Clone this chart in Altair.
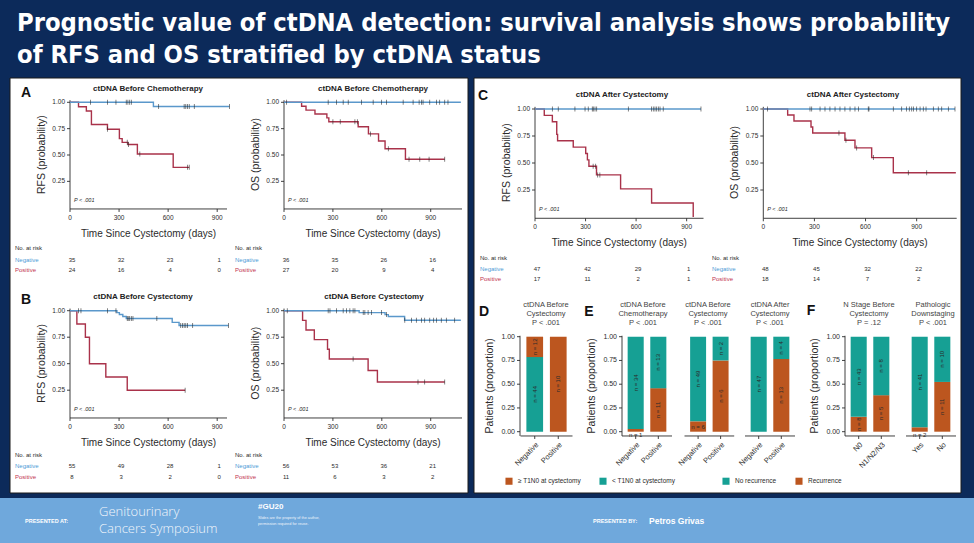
import altair as alt
import pandas as pd

W, H = 974, 543
NAVY = "#0c2a5a"
FOOT = "#6fa8dc"
BLUE = "#5a98cb"
RED = "#a9324a"
NEG_TXT = "#4d9bd6"
POS_TXT = "#c2334f"
TEAL = "#16a094"
ORANGE = "#bc561f"
INK = "#2b2b2b"
NARROW = "'Liberation Sans Narrow', 'Arial Narrow', 'Liberation Sans', sans-serif"
SANS = "'Liberation Sans', Arial, sans-serif"
HEAD = "'DejaVu Sans Condensed', 'DejaVu Sans', sans-serif"

# ---------------- data: Kaplan-Meier curves (day, survival) -----------------
A_RFS_NEG_STEPS = [(0, 1.0), (510, 0.96)]
A_RFS_NEG_CENS = [125, 229, 281, 344, 354, 365, 375, 542, 698, 708, 719, 729, 760, 975]
A_RFS_NEG_END = 975
A_RFS_POS_STEPS = [(0, 1.0), (52, 0.958), (100, 0.917), (131, 0.79), (229, 0.745), (302, 0.655),
                   (319, 0.62), (354, 0.60), (412, 0.51), (631, 0.383)]
A_RFS_POS_CENS = [229, 350, 358, 427, 719, 729]
A_RFS_POS_END = 729

A_OS_NEG_STEPS = [(0, 1.0)]
A_OS_NEG_CENS = [16, 271, 322, 363, 394, 476, 547, 598, 629, 731, 792, 829, 843, 853, 894, 935, 955, 986, 1006]
A_OS_NEG_END = 1085
A_OS_POS_STEPS = [(0, 1.0), (108, 0.963), (135, 0.926), (190, 0.889), (263, 0.852), (275, 0.815),
                  (455, 0.768), (518, 0.70), (580, 0.633), (620, 0.56), (745, 0.46)]
A_OS_POS_CENS = [300, 345, 435, 450, 530, 640, 767, 833, 890, 986]
A_OS_POS_END = 986

B_RFS_NEG_STEPS = [(0, 1.0), (287, 0.982), (302, 0.964), (323, 0.945), (344, 0.927), (625, 0.89), (667, 0.86)]
B_RFS_NEG_CENS = [52, 67, 229, 281, 350, 356, 365, 375, 385, 531, 677, 688, 698, 708, 719, 750, 969]
B_RFS_NEG_END = 969
B_RFS_POS_STEPS = [(0, 1.0), (42, 0.875), (94, 0.75), (119, 0.5), (219, 0.375), (350, 0.25)]
B_RFS_POS_CENS = [704]
B_RFS_POS_END = 704

B_OS_NEG_STEPS = [(0, 1.0), (461, 0.982), (620, 0.963), (640, 0.945), (740, 0.91)]
B_OS_NEG_CENS = [20, 271, 282, 322, 363, 384, 404, 424, 435, 486, 496, 516, 537, 598, 629, 741, 782, 812,
                 843, 863, 894, 918, 935, 965, 996, 1047]
B_OS_NEG_END = 1085
B_OS_POS_STEPS = [(0, 1.0), (114, 0.909), (135, 0.818), (186, 0.727), (267, 0.636), (278, 0.545),
                  (516, 0.436), (573, 0.327)]
B_OS_POS_CENS = [424, 822, 863, 986]
B_OS_POS_END = 986

C_RFS_NEG_STEPS = [(0, 1.0)]
C_RFS_NEG_CENS = [103, 138, 237, 297, 316, 340, 346, 356, 366, 554, 692, 702, 712, 722, 732, 742, 761, 985]
C_RFS_NEG_END = 985
C_RFS_POS_STEPS = [(0, 1.0), (55, 0.941), (103, 0.882), (129, 0.765), (134, 0.706), (227, 0.647),
                   (301, 0.588), (311, 0.529), (320, 0.47), (365, 0.39), (508, 0.26), (692, 0.13), (939, 0.0)]
C_RFS_POS_CENS = [345, 360, 372, 385]
C_RFS_POS_END = 939

C_OS_NEG_STEPS = [(0, 1.0)]
C_OS_NEG_CENS = [25, 274, 284, 333, 362, 391, 421, 450, 479, 509, 538, 558, 616, 620, 763, 812, 841, 857,
                 871, 881, 900, 920, 939, 955, 998, 1027, 1047, 1086, 1125]
C_OS_NEG_END = 1125
C_OS_POS_STEPS = [(0, 1.0), (143, 0.944), (180, 0.889), (280, 0.833), (290, 0.778), (479, 0.71),
                  (538, 0.64), (636, 0.55), (763, 0.41)]
C_OS_POS_CENS = [444, 485, 548, 646, 851, 959]
C_OS_POS_END = 1130

# numbers at risk at 0, 300, 600, 900 days
RISK_DAYS = [0, 300, 600, 900]
A_RFS_RISK_NEG = [35, 32, 23, 1]
A_RFS_RISK_POS = [24, 16, 4, 0]
A_OS_RISK_NEG = [36, 35, 26, 16]
A_OS_RISK_POS = [27, 20, 9, 4]
B_RFS_RISK_NEG = [55, 49, 28, 1]
B_RFS_RISK_POS = [8, 3, 2, 0]
B_OS_RISK_NEG = [56, 53, 36, 21]
B_OS_RISK_POS = [11, 6, 3, 2]
C_RFS_RISK_NEG = [47, 42, 29, 1]
C_RFS_RISK_POS = [17, 11, 2, 1]
C_OS_RISK_NEG = [48, 45, 32, 22]
C_OS_RISK_POS = [18, 14, 7, 2]

KM_Y_TICKS = [0.25, 0.5, 0.75, 1.0]
BAR_Y_TICKS = [0.0, 0.25, 0.5, 0.75, 1.0]

# ---------------- data: stacked proportion bars (counts bottom -> top) ------
D_CLASSES = ["< T1N0 at cystectomy", "≥ T1N0 at cystectomy"]
D_LEGEND = ["≥ T1N0 at cystectomy", "< T1N0 at cystectomy"]
REC_CLASSES = ["Recurrence", "No recurrence"]
REC_LEGEND = ["No recurrence", "Recurrence"]
D_CATS = ["Negative", "Positive"]
D_COUNTS = [[44, 12], [0, 10]]
E1_CATS = ["Negative", "Positive"]
E1_COUNTS = [[1, 34], [11, 13]]
E2_CATS = ["Negative", "Positive"]
E2_COUNTS = [[6, 49], [6, 2]]
E3_CATS = ["Negative", "Positive"]
E3_COUNTS = [[0, 47], [13, 4]]
F1_CATS = ["N0", "N1/N2/N3"]
F1_COUNTS = [[8, 43], [5, 8]]
F2_CATS = ["Yes", "No"]
F2_COUNTS = [[2, 41], [11, 10]]

one = pd.DataFrame({"k": [0]})


def txt(text, x, y, size, color=INK, weight="normal", align="left", baseline="middle",
        font=SANS, style="normal", angle=0):
    return alt.Chart(one).mark_text(text=text, fontSize=size, color=color, fontWeight=weight, align=align,
                                    baseline=baseline, font=font, fontStyle=style, angle=angle).encode(
        x=alt.value(x), y=alt.value(y))


def rect(x, x2, y, y2, fill, stroke=None):
    kw = dict(fill=fill)
    if stroke:
        kw.update(stroke=stroke, strokeWidth=1)
    return alt.Chart(one).mark_rect(**kw).encode(
        x=alt.value(x), x2=alt.value(x2), y=alt.value(y), y2=alt.value(y2))


def y_axis(ys, ticks, xpix, lo, hi, label_size=6.5):
    """Left axis (domain, ticks, labels) drawn through the panel's y scale."""
    dom = pd.DataFrame({"a": [lo], "b": [hi]})
    tk = pd.DataFrame({"v": ticks, "lab": [f"{t:.2f}" for t in ticks]})
    return [
        alt.Chart(dom).mark_rule(color=INK, strokeWidth=0.9).encode(
            x=alt.value(xpix), y=alt.Y("a:Q", scale=ys, axis=None), y2="b:Q"),
        alt.Chart(tk).mark_rule(color=INK, strokeWidth=0.9).encode(
            x=alt.value(xpix - 3), x2=alt.value(xpix), y=alt.Y("v:Q", scale=ys, axis=None)),
        alt.Chart(tk).mark_text(fontSize=label_size, color=INK, font=SANS, align="right",
                                baseline="middle").encode(
            x=alt.value(xpix - 5), y=alt.Y("v:Q", scale=ys, axis=None), text="lab:N"),
    ]


def km_panel(title, ylab, xdom, xr, y0p, y1p, neg, pos, risk_neg, risk_pos,
             title_xy, lab_x, rows):
    xs = alt.Scale(domain=xdom, range=xr, nice=False, zero=False)
    lo, hi = -0.012, 1.02
    span = y0p - y1p
    ybot = y0p - lo * span
    ys = alt.Scale(domain=[lo, hi], range=[ybot, y0p - hi * span], nice=False, zero=False)
    layers = []
    dom = pd.DataFrame({"a": [xdom[0]], "b": [xdom[1]]})
    tk = pd.DataFrame({"v": RISK_DAYS, "lab": [str(d) for d in RISK_DAYS]})
    layers += [
        alt.Chart(dom).mark_rule(color=INK, strokeWidth=0.9).encode(
            x=alt.X("a:Q", scale=xs, axis=None), x2="b:Q", y=alt.value(ybot)),
        alt.Chart(tk).mark_rule(color=INK, strokeWidth=0.9).encode(
            x=alt.X("v:Q", scale=xs, axis=None), y=alt.value(ybot), y2=alt.value(ybot + 3)),
        alt.Chart(tk).mark_text(fontSize=6.5, color=INK, font=SANS, baseline="middle").encode(
            x=alt.X("v:Q", scale=xs, axis=None), y=alt.value(ybot + 9), text="lab:N"),
    ]
    layers += y_axis(ys, KM_Y_TICKS, xr[0], lo, hi)
    layers.append(txt("Time Since Cystectomy (days)", (xr[0] + xr[1]) / 2, ybot + 25, 10, INK,
                      align="center", font=NARROW))
    layers.append(txt(ylab, xr[0] - 28, (ybot + y0p - hi * span) / 2, 10.5, INK, align="center",
                      font=NARROW, angle=270))
    for (steps, cens, end), col in ((pos, RED), (neg, BLUE)):
        pts = [{"day": d, "surv": s} for d, s in steps] + [{"day": end, "surv": steps[-1][1]}]

        def surv_at(t, steps=steps):
            v = steps[0][1]
            for d, s in steps:
                if d <= t:
                    v = s
            return v
        cz = [{"day": c, "surv": surv_at(c)} for c in cens]
        layers.append(alt.Chart(pd.DataFrame(pts)).mark_line(interpolate="step-after", color=col,
                                                               strokeWidth=1.4).encode(
            x=alt.X("day:Q", scale=xs, axis=None), y=alt.Y("surv:Q", scale=ys, axis=None)))
        layers.append(alt.Chart(pd.DataFrame(cz)).mark_tick(orient="vertical", size=5, thickness=0.8,
                                                             color="#222222").encode(
            x=alt.X("day:Q", scale=xs, axis=None), y=alt.Y("surv:Q", scale=ys, axis=None)))
    for vals, ry in ((risk_neg, rows[1]), (risk_pos, rows[2])):
        rdf = pd.DataFrame({"day": RISK_DAYS, "n": vals})
        layers.append(alt.Chart(rdf).mark_text(fontSize=6, color=INK, font=SANS, dx=2).encode(
            x=alt.X("day:Q", scale=xs, axis=None), y=alt.value(ry), text="n:Q"))
    layers.append(txt("No. at risk", lab_x, rows[0], 6, INK))
    layers.append(txt("Negative", lab_x, rows[1], 6, NEG_TXT))
    layers.append(txt("Positive", lab_x, rows[2], 6, POS_TXT))
    layers.append(txt("P < .001", xr[0] + 4, ybot - 9, 5.5, INK, style="italic"))
    layers.append(txt(title, title_xy[0], title_xy[1], 8, "#222222", weight="bold", align="center"))
    return alt.layer(*layers)


def bar_panel(cats, counts, classes, legend_order, xr, title_lines, title_x, yaxis_x=None, legend_xy=None):
    rows = []
    for cat, cnts in zip(cats, counts):
        tot = sum(cnts)
        acc = 0.0
        for cls, n in zip(classes, cnts):
            if n == 0:
                continue
            p = n / tot
            lo = acc
            acc += p
            small = p < 0.05
            rows.append({"cat": cat, "cls": cls, "y0": lo, "y1": acc, "lab": f"n = {n}",
                         "ly": -0.03 if small else (lo + acc) / 2,
                         "ang": 0 if p < 0.12 else 270})
    df = pd.DataFrame(rows)
    lo_d, hi_d = -0.045, 1.01
    y0p, y1p = 431.7, 336.7
    span = y0p - y1p
    ybot = y0p - lo_d * span
    ys = alt.Scale(domain=[lo_d, hi_d], range=[ybot, y0p - hi_d * span], nice=False, zero=False)
    xs = alt.Scale(domain=cats, range=xr, paddingInner=0.29, paddingOuter=0.25)
    if legend_xy is not None:
        legend = alt.Legend(orient="none", legendX=legend_xy[0], legendY=legend_xy[1], direction="horizontal",
                            title=None, symbolType="square", symbolSize=50, symbolStrokeWidth=0,
                            labelFontSize=6.5, labelFont=SANS, labelColor=INK, columnPadding=18,
                            labelOffset=5, zindex=1)
    else:
        legend = None
    rng = [ORANGE, TEAL] if legend_order[0].startswith("≥") else [TEAL, ORANGE]
    color = alt.Color("cls:N", scale=alt.Scale(domain=legend_order, range=rng), legend=legend)
    layers = [
        alt.Chart(df).mark_bar().encode(
            x=alt.X("cat:N", scale=xs, axis=None, sort=cats),
            y=alt.Y("y0:Q", scale=ys, axis=None), y2="y1:Q", color=color),
        alt.Chart(df).mark_text(fontSize=6, color=INK, font=SANS).encode(
            x=alt.X("cat:N", scale=xs, axis=None, sort=cats), y=alt.Y("ly:Q", scale=ys, axis=None),
            text="lab:N", angle=alt.Angle("ang:Q", scale=None)),
    ]
    cdf = pd.DataFrame({"cat": cats})
    layers += [
        alt.Chart(one).mark_rule(color=INK, strokeWidth=0.9).encode(
            x=alt.value(xr[0]), x2=alt.value(xr[1]), y=alt.value(ybot)),
        alt.Chart(cdf).mark_rule(color=INK, strokeWidth=0.9).encode(
            x=alt.X("cat:N", scale=xs, axis=None, sort=cats), y=alt.value(ybot), y2=alt.value(ybot + 3)),
        alt.Chart(cdf).mark_text(fontSize=7.5, color=INK, font=SANS, angle=315, align="right",
                                 baseline="top").encode(
            x=alt.X("cat:N", scale=xs, axis=None, sort=cats), y=alt.value(ybot + 5), text="cat:N"),
    ]
    if yaxis_x is not None:
        layers += y_axis(ys, BAR_Y_TICKS, yaxis_x, lo_d, hi_d, label_size=7)
        layers.append(txt("Patients (proportion)", yaxis_x - 30, (ybot + y0p - hi_d * span) / 2, 10.5, INK,
                          align="center", font=NARROW, angle=270))
    layers.append(alt.Chart(one).mark_text(text=title_lines, fontSize=7.5, color="#444444", font=SANS,
                                           align="center", baseline="top", lineHeight=9).encode(
        x=alt.value(title_x), y=alt.value(301)))
    return alt.layer(*layers)


layers = [
    rect(10, 468, 78, 493, "white", "#1a1a1a"),
    rect(474, 961, 78, 493, "white", "#1a1a1a"),
    rect(0, W, 498, H, FOOT),
    txt("Prognostic value of ctDNA detection: survival analysis shows probability", 17, 31, 25.3, "white",
        weight="bold", baseline="alphabetic", font=HEAD),
    txt("of RFS and OS stratified by ctDNA status", 17, 63, 25.3, "white", weight="bold",
        baseline="alphabetic", font=HEAD),
]

layers.append(km_panel("ctDNA Before Chemotherapy", "RFS (probability)", [0, 960], [70, 227], 207.7, 102.3,
                       (A_RFS_NEG_STEPS, A_RFS_NEG_CENS, A_RFS_NEG_END),
                       (A_RFS_POS_STEPS, A_RFS_POS_CENS, A_RFS_POS_END),
                       A_RFS_RISK_NEG, A_RFS_RISK_POS, (148, 89), 15, (248, 259.7, 270.3)))
layers.append(km_panel("ctDNA Before Chemotherapy", "OS (probability)", [0, 1092], [284, 462], 207.7, 102.3,
                       (A_OS_NEG_STEPS, A_OS_NEG_CENS, A_OS_NEG_END),
                       (A_OS_POS_STEPS, A_OS_POS_CENS, A_OS_POS_END),
                       A_OS_RISK_NEG, A_OS_RISK_POS, (373, 89), 235, (248, 259.7, 270.3)))
layers.append(km_panel("ctDNA Before Cystectomy", "RFS (probability)", [0, 960], [70, 227], 416.7, 310.7,
                       (B_RFS_NEG_STEPS, B_RFS_NEG_CENS, B_RFS_NEG_END),
                       (B_RFS_POS_STEPS, B_RFS_POS_CENS, B_RFS_POS_END),
                       B_RFS_RISK_NEG, B_RFS_RISK_POS, (143, 297), 15, (454.7, 466.3, 477.3)))
layers.append(km_panel("ctDNA Before Cystectomy", "OS (probability)", [0, 1092], [284, 462], 416.7, 310.7,
                       (B_OS_NEG_STEPS, B_OS_NEG_CENS, B_OS_NEG_END),
                       (B_OS_POS_STEPS, B_OS_POS_CENS, B_OS_POS_END),
                       B_OS_RISK_NEG, B_OS_RISK_POS, (374, 297), 235, (454.7, 466.3, 477.3)))
layers.append(km_panel("ctDNA After Cystectomy", "RFS (probability)", [0, 1000], [535, 703.5], 217, 109,
                       (C_RFS_NEG_STEPS, C_RFS_NEG_CENS, C_RFS_NEG_END),
                       (C_RFS_POS_STEPS, C_RFS_POS_CENS, C_RFS_POS_END),
                       C_RFS_RISK_NEG, C_RFS_RISK_POS, (622, 95), 480, (258.3, 269, 279.3)))
layers.append(km_panel("ctDNA After Cystectomy", "OS (probability)", [0, 1135], [763.3, 956.7], 217, 109,
                       (C_OS_NEG_STEPS, C_OS_NEG_CENS, C_OS_NEG_END),
                       (C_OS_POS_STEPS, C_OS_POS_CENS, C_OS_POS_END),
                       C_OS_RISK_NEG, C_OS_RISK_POS, (853, 95), 712, (258.3, 269, 279.3)))

layers.append(bar_panel(D_CATS, D_COUNTS, D_CLASSES, D_LEGEND, [520.5, 572.5],
                        ["ctDNA Before", "Cystectomy", "P < .001"], 546, yaxis_x=520, legend_xy=(505, 477)))
layers.append(bar_panel(E1_CATS, E1_COUNTS, REC_CLASSES, REC_LEGEND, [622, 672],
                        ["ctDNA Before", "Chemotherapy", "P < .001"], 643, yaxis_x=622, legend_xy=(722, 477)))
layers.append(bar_panel(E2_CATS, E2_COUNTS, REC_CLASSES, REC_LEGEND, [684.5, 734.2],
                        ["ctDNA Before", "Cystectomy", "P < .001"], 708))
layers.append(bar_panel(E3_CATS, E3_COUNTS, REC_CLASSES, REC_LEGEND, [745, 795],
                        ["ctDNA After", "Cystectomy", "P < .001"], 770))
layers.append(bar_panel(F1_CATS, F1_COUNTS, REC_CLASSES, REC_LEGEND, [845, 895],
                        ["N Stage Before", "Cystectomy", "P = .12"], 869, yaxis_x=845))
layers.append(bar_panel(F2_CATS, F2_COUNTS, REC_CLASSES, REC_LEGEND, [906, 956],
                        ["Pathologic", "Downstaging", "P < .001"], 933))

# panel letters
for L, lx, ly in (("A", 26, 93), ("B", 26, 300), ("C", 483, 96), ("D", 484, 312), ("E", 589, 312), ("F", 811, 311)):
    layers.append(txt(L, lx, ly, 14, "#111111", weight="bold", align="center", font=SANS))

# footer
layers += [
    txt("PRESENTED AT:", 25, 521, 5.5, "white", weight="bold", font=SANS),
    txt("Genitourinary", 99, 511.5, 13, "#f2f6fb", weight=300, font="'Open Sans', 'Lato', sans-serif"),
    txt("Cancers Symposium", 99, 528.5, 13, "#f2f6fb", weight=300, font="'Open Sans', 'Lato', sans-serif"),
    txt("#GU20", 258, 507, 8, "white", weight="bold", font=SANS),
    txt("Slides are the property of the author,", 258, 518, 3.8, "#eef3fa", font=SANS),
    txt("permission required for reuse.", 258, 524, 3.8, "#eef3fa", font=SANS),
    txt("PRESENTED BY:", 593, 521, 5.5, "white", weight="bold", font=SANS),
    txt("Petros Grivas", 649, 521, 8.5, "white", weight="bold", font=SANS),
]

chart = alt.layer(*layers).resolve_scale(
    x="independent", y="independent", color="independent"
).resolve_legend(color="independent").properties(
    width=W, height=H, autosize=alt.AutoSizeParams(type="none"), padding=0, background=NAVY
).configure_view(stroke=None)

chart.save("out.html", embed_options={"renderer": "svg", "actions": False})
